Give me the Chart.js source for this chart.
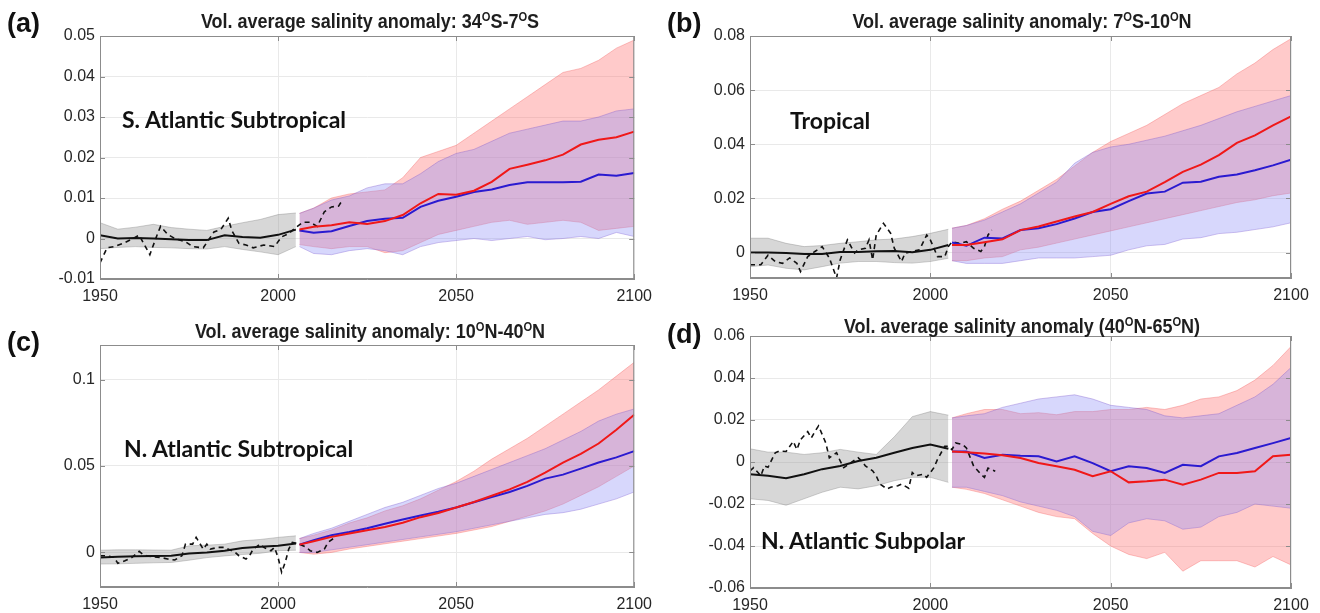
<!DOCTYPE html>
<html>
<head>
<meta charset="utf-8">
<script src="https://cdn.jsdelivr.net/npm/chart.js@4.4.1/dist/chart.umd.min.js"></script>
<style>
  body { margin: 0; background: #fff; }
  #wrap { position: relative; width: 1320px; height: 613px; overflow: hidden; background: #fff; }
  canvas { position: absolute; }
  .title { position: absolute; font: bold 20px "Liberation Sans", Arial, sans-serif; color: #1e1e1e;
           white-space: nowrap; transform: translate(-50%, -50%) scaleX(0.9); }
  .title sup { font-size: 0.62em; vertical-align: 0.55em; line-height: 0; }
  .plab { position: absolute; font: bold 27px "Liberation Sans", Arial, sans-serif; color: #111;
          transform: translateY(-50%); }
  .region { position: absolute; font: bold 23px Lato, "Open Sans", sans-serif; color: #111;
            white-space: nowrap; transform: translateY(-50%); }
</style>
</head>
<body>
<div id="wrap">
  <canvas id="ca" width="660" height="310" style="left:0;top:0"></canvas>
  <canvas id="cb" width="660" height="310" style="left:660px;top:0"></canvas>
  <canvas id="cc" width="660" height="303" style="left:0;top:310px"></canvas>
  <canvas id="cd" width="660" height="303" style="left:660px;top:310px"></canvas>

  <div class="plab" style="left:7px;top:23px">(a)</div>
  <div class="plab" style="left:667px;top:23px">(b)</div>
  <div class="plab" style="left:7px;top:342px">(c)</div>
  <div class="plab" style="left:667px;top:334px">(d)</div>

  <div class="title" style="left:370px;top:21px">Vol. average salinity anomaly: 34<sup>O</sup>S-7<sup>O</sup>S</div>
  <div class="title" style="left:1022px;top:21px">Vol. average salinity anomaly: 7<sup>O</sup>S-10<sup>O</sup>N</div>
  <div class="title" style="left:370px;top:331px">Vol. average salinity anomaly: 10<sup>O</sup>N-40<sup>O</sup>N</div>
  <div class="title" style="left:1022px;top:326px">Vol. average salinity anomaly (40<sup>O</sup>N-65<sup>O</sup>N)</div>

  <div class="region" style="left:122px;top:119px">S. Atlantic Subtropical</div>
  <div class="region" style="left:790px;top:120px">Tropical</div>
  <div class="region" style="left:124px;top:448px">N. Atlantic Subtropical</div>
  <div class="region" style="left:761px;top:540px">N. Atlantic Subpolar</div>
</div>

<script>
// years shared by all panels
const histYears = [1950, 1955, 1960, 1965, 1970, 1975, 1980, 1985, 1990, 1995, 2000, 2005];
const projYears = [2006, 2010, 2015, 2020, 2025, 2030, 2035, 2040, 2045, 2050,
                   2055, 2060, 2065, 2070, 2075, 2080, 2085, 2090, 2095, 2100];
const xTicks = [1950, 2000, 2050, 2100];

// (a) 34S-7S
const histMeanA = [0.0008, 0, 0.0001, 0, -0.0002, -0.0004, -0.0004, 0.0008, 0.0004, 0.0002, 0.0009, 0.0022];
const histHiA = [0.0039, 0.0023, 0.0028, 0.0035, 0.0027, 0.0023, 0.002, 0.003, 0.0039, 0.0047, 0.0059, 0.0063];
const histLoA = [-0.0025, -0.0022, -0.002, -0.0022, -0.0023, -0.0025, -0.0026, -0.002, -0.0027, -0.0033, -0.004, -0.002];
const obsYearsA = [1950, 1952, 1954, 1957, 1961, 1964, 1966, 1967, 1969, 1971, 1974, 1976, 1979, 1982, 1984, 1986,
                   1987, 1989, 1991, 1993, 1996, 1999, 2001, 2003, 2005, 2007, 2009, 2011, 2013, 2015, 2017, 2018];
const obsA = [-0.006, -0.0023, -0.002, -0.001, 0.0008, -0.004, 0.0008, 0.003, 0.001, 0, -0.0008, -0.002, -0.0023, 0.0016,
              0.0023, 0.005, 0.002, -0.0012, -0.0016, -0.0023, -0.0016, -0.002, 0.0004, 0.0012, 0.0027, 0.004, 0.004,
              0.003, 0.0066, 0.0078, 0.008, 0.0094];
const redMeanA = [0.0022, 0.0029, 0.0033, 0.004, 0.0036, 0.0043, 0.0058, 0.0087, 0.011, 0.0108,
                  0.0118, 0.014, 0.0172, 0.0182, 0.0193, 0.0207, 0.0232, 0.0244, 0.025, 0.0264];
const redHiA = [0.0062, 0.0075, 0.01, 0.011, 0.0115, 0.012, 0.015, 0.02, 0.0215, 0.023,
                0.026, 0.029, 0.032, 0.035, 0.038, 0.041, 0.042, 0.044, 0.047, 0.049];
const redLoA = [-0.0015, -0.002, -0.0025, -0.002, -0.002, -0.0035, -0.003, -0.001, 0.001, 0.002,
                0.003, 0.004, 0.0045, 0.0035, 0.004, 0.0045, 0.004, 0.002, 0.0025, 0.003];
const blueMeanA = [0.002, 0.0014, 0.0018, 0.0031, 0.0043, 0.0049, 0.0051, 0.0078, 0.0093, 0.0103,
                   0.0115, 0.0121, 0.0132, 0.0139, 0.0139, 0.0139, 0.014, 0.0158, 0.0155, 0.0162];
const blueHiA = [0.0062, 0.0075, 0.0095, 0.0105, 0.0125, 0.0135, 0.0135, 0.016, 0.019, 0.021,
                 0.022, 0.024, 0.026, 0.027, 0.028, 0.029, 0.029, 0.03, 0.0315, 0.032];
const blueLoA = [-0.002, -0.0037, -0.004, -0.003, -0.0025, -0.003, -0.004, -0.002, -0.001, -0.0005,
                 0, -0.0005, 0, 0.0005, -0.0003, 0, 0.0005, 0, 0.0015, 0.0005];

// (b) 7S-10N
const histMeanB = [0, 0, -0.0002, -0.0005, -0.0005, 0.0002, 0.0002, 0.0005, 0.0006, 0.0001, 0.001, 0.0028];
const histHiB = [0.0053, 0.0053, 0.0034, 0.0022, 0.0026, 0.0034, 0.004, 0.0047, 0.005, 0.0059, 0.0071, 0.0086];
const histLoB = [-0.0052, -0.0046, -0.0058, -0.0064, -0.0052, -0.0039, -0.0033, -0.0033, -0.0037, -0.0039, -0.0033, -0.0021];
const obsYearsB = [1950, 1953, 1955, 1957, 1959, 1961, 1963, 1964, 1966, 1968, 1970, 1972, 1974, 1975, 1977, 1979,
                   1980, 1982, 1983, 1984, 1985, 1987, 1989, 1990, 1992, 1993, 1995, 1997, 1999, 2000, 2002, 2004,
                   2005, 2006, 2008, 2010, 2012, 2014, 2015, 2016, 2017];
const obsB = [-0.0045, -0.0045, -0.001, -0.0033, -0.004, -0.002, -0.004, -0.007, -0.0015, 0.0004, 0.0022, -0.002,
              -0.0094, -0.0027, 0.0047, -0.0002, 0.001, 0.0016, 0.0047, -0.0027, 0.0065, 0.0108, 0.0071, 0.0016,
              -0.0033, -0.0002, 0.0004, 0.001, 0.0065, 0.0047, -0.0015, -0.0015, 0.0022, 0.004, 0.0034, 0.004,
              0.0016, 0.0004, 0.0022, 0.0065, 0.0083];
const redMeanB = [0.0028, 0.0028, 0.0038, 0.0049, 0.0083, 0.0096, 0.0115, 0.0133, 0.015, 0.018,
                  0.0208, 0.0225, 0.026, 0.0298, 0.0325, 0.036, 0.0405, 0.0433, 0.047, 0.0503];
const redHiB = [0.009, 0.01, 0.0125, 0.016, 0.019, 0.023, 0.027, 0.032, 0.037, 0.041,
                0.044, 0.047, 0.051, 0.055, 0.058, 0.061, 0.066, 0.07, 0.075, 0.079];
const redLoB = [-0.003, -0.003, -0.002, -0.0015, 0.001, 0.002, 0.0035, 0.005, 0.0065, 0.008,
                0.0095, 0.011, 0.0125, 0.014, 0.0155, 0.017, 0.0185, 0.0195, 0.021, 0.022];
const blueMeanB = [0.0037, 0.0025, 0.0055, 0.0052, 0.0083, 0.009, 0.0105, 0.0126, 0.015, 0.016,
                   0.019, 0.0218, 0.0225, 0.0258, 0.0262, 0.028, 0.0288, 0.0304, 0.0322, 0.0343];
const blueHiB = [0.009, 0.01, 0.012, 0.015, 0.018, 0.022, 0.026, 0.033, 0.037, 0.039,
                 0.04, 0.0415, 0.043, 0.045, 0.047, 0.0495, 0.052, 0.054, 0.056, 0.058];
const blueLoB = [-0.003, -0.004, -0.004, -0.004, -0.003, -0.002, -0.002, -0.002, -0.0015, -0.001,
                 0.001, 0.0025, 0.003, 0.005, 0.0055, 0.007, 0.0075, 0.0085, 0.0095, 0.011];

// (c) 10N-40N
const histMeanC = [-0.0029, -0.0025, -0.0022, -0.002, -0.0019, -0.0006, 0, 0.001, 0.0025, 0.0033, 0.0038, 0.0052];
const histHiC = [0.0013, 0.0015, 0.0015, 0.0014, 0.0013, 0.0038, 0.0042, 0.0048, 0.0067, 0.0075, 0.0087, 0.0096];
const histLoC = [-0.0067, -0.0066, -0.0063, -0.006, -0.0058, -0.0045, -0.003, -0.002, -0.0012, -0.0005, 0.001, 0.0013];
const obsYearsC = [1950, 1952, 1954, 1955, 1957, 1959, 1961, 1962, 1963, 1965, 1967, 1969, 1971, 1973, 1974, 1976,
                   1977, 1979, 1980, 1981, 1983, 1985, 1988, 1989, 1991, 1992, 1993, 1995, 1996, 1998, 1999, 2000,
                   2001, 2002, 2003, 2004, 2006, 2008, 2009, 2011, 2013, 2014, 2016];
const obsC = [-0.0019, -0.0019, -0.0029, -0.0063, -0.0048, -0.0029, 0.0006, -0.001, -0.0019, -0.0025, -0.0029,
              -0.0038, -0.0044, -0.0019, 0.0048, 0.0048, 0.0087, 0.0019, 0.0048, 0.0019, 0.0029, 0.0029, 0,
              -0.0019, -0.0038, -0.0019, 0.0019, 0.0048, 0.0029, 0.001, 0.0029, -0.0029, -0.0115, -0.0058,
              0.0019, 0.0058, 0.0048, 0.0029, 0.001, 0, 0.0019, 0.0058, 0.0087];
const redMeanC = [0.0045, 0.0065, 0.009, 0.011, 0.0128, 0.0147, 0.0172, 0.0204, 0.0228, 0.026,
                  0.0292, 0.0328, 0.0365, 0.0408, 0.0462, 0.052, 0.057, 0.063, 0.071, 0.0796];
const redHiC = [0.008, 0.01, 0.013, 0.017, 0.02, 0.024, 0.027, 0.031, 0.036, 0.041,
                0.047, 0.054, 0.06, 0.066, 0.073, 0.08, 0.087, 0.094, 0.102, 0.11];
const redLoC = [0, -0.001, 0, 0.002, 0.0035, 0.005, 0.0065, 0.008, 0.0095, 0.011,
                0.013, 0.015, 0.018, 0.021, 0.024, 0.028, 0.033, 0.038, 0.044, 0.05];
const blueMeanC = [0.0045, 0.007, 0.01, 0.0118, 0.014, 0.0166, 0.019, 0.0214, 0.0235, 0.026,
                   0.029, 0.032, 0.035, 0.0385, 0.0427, 0.045, 0.0485, 0.052, 0.055, 0.0586];
const blueHiC = [0.008, 0.011, 0.014, 0.018, 0.022, 0.026, 0.029, 0.033, 0.037, 0.04,
                 0.044, 0.048, 0.052, 0.056, 0.06, 0.065, 0.07, 0.076, 0.08, 0.083];
const blueLoC = [0, 0, 0.0015, 0.003, 0.0045, 0.006, 0.0075, 0.009, 0.0105, 0.012,
                 0.014, 0.016, 0.018, 0.02, 0.022, 0.023, 0.025, 0.028, 0.031, 0.035];

// (d) 40N-65N
const histMeanD = [-0.0058, -0.0066, -0.0077, -0.0058, -0.0034, -0.0019, 0.0005, 0.002, 0.0044, 0.0067, 0.0083, 0.0063];
const histHiD = [0.0063, 0.0047, 0.0047, 0.0036, 0.0044, 0.006, 0.0047, 0.0036, 0.012, 0.0216, 0.024, 0.0223];
const histLoD = [-0.0175, -0.0183, -0.0206, -0.0175, -0.0144, -0.012, -0.0128, -0.0113, -0.0089, -0.0073, -0.0073, -0.0097];
const obsYearsD = [1950, 1951, 1953, 1954, 1955, 1957, 1958, 1960, 1962, 1963, 1964, 1966, 1967, 1968, 1969, 1971,
                   1972, 1974, 1975, 1976, 1978, 1980, 1981, 1982, 1984, 1985, 1986, 1988, 1989, 1991, 1992, 1994,
                   1995, 1996, 1998, 1999, 2001, 2002, 2004, 2005, 2006, 2007, 2009, 2010, 2012, 2014, 2015, 2016, 2018];
const obsD = [-0.0042, -0.0027, -0.0066, -0.0019, -0.0025, 0.0044, 0.0052, 0.005, 0.0098, 0.0059, 0.0106, 0.0145,
              0.0114, 0.0145, 0.0172, 0.0091, 0.002, 0.0044, 0.0005, -0.0027, -0.0003, 0.002, 0.0005, -0.0019,
              -0.0042, -0.0066, -0.0105, -0.0128, -0.012, -0.0113, -0.0105, -0.0125, -0.005, -0.0066, -0.0058,
              -0.0073, -0.0027, 0.0013, 0.0075, 0.0075, 0.0059, 0.0091, 0.0083, 0.0067, -0.0019, -0.0058,
              -0.0073, -0.0029, -0.0044];
const redMeanD = [0.005, 0.0046, 0.004, 0.0032, 0.0019, -0.0005, -0.002, -0.0037, -0.0068, -0.0044,
                  -0.0097, -0.0092, -0.0084, -0.0108, -0.0084, -0.0052, -0.0052, -0.0044, 0.0027, 0.0035];
const redHiD = [0.021, 0.023, 0.025, 0.025, 0.023, 0.0235, 0.0225, 0.024, 0.024, 0.025,
                0.025, 0.026, 0.025, 0.027, 0.03, 0.031, 0.034, 0.039, 0.046, 0.055];
const redLoD = [-0.012, -0.013, -0.015, -0.018, -0.021, -0.024, -0.026, -0.027, -0.034, -0.04,
                -0.044, -0.046, -0.043, -0.052, -0.047, -0.047, -0.047, -0.05, -0.045, -0.049];
const blueMeanD = [0.005, 0.005, 0.0019, 0.0035, 0.003, 0.0027, 0.0003, 0.0027, -0.0005, -0.0044,
                   -0.002, -0.0029, -0.0052, -0.0013, -0.002, 0.0027, 0.0043, 0.0067, 0.009, 0.0114];
const blueHiD = [0.021, 0.022, 0.023, 0.026, 0.028, 0.03, 0.031, 0.032, 0.03, 0.027,
                 0.026, 0.025, 0.022, 0.021, 0.022, 0.023, 0.027, 0.031, 0.037, 0.045];
const blueLoD = [-0.012, -0.012, -0.014, -0.016, -0.019, -0.021, -0.023, -0.026, -0.033, -0.035,
                 -0.029, -0.027, -0.028, -0.032, -0.031, -0.026, -0.024, -0.02, -0.021, -0.022];

const AXIS_COL = '#8c8c8c';
const GRID_COL = '#e9e9e9';
const TICK_FONT = { family: '"Liberation Sans", Arial, sans-serif', size: 16 };

function pts(xs, ys) {
  return xs.map((x, i) => ({ x: x, y: ys[i] }));
}

// frame round the plot plus small inward ticks, like the matlab box
const boxPlugin = {
  id: 'box',
  afterDraw(chart) {
    const c = chart.ctx, a = chart.chartArea, sx = chart.scales.x, sy = chart.scales.y;
    c.save();
    c.strokeStyle = AXIS_COL;
    c.lineWidth = 1;
    c.strokeRect(a.left + 0.5, a.top + 0.5, a.right - a.left - 1, a.bottom - a.top - 1);
    c.beginPath();
    sy.ticks.forEach(t => {
      const y = Math.round(sy.getPixelForValue(t.value)) + 0.5;
      c.moveTo(a.left, y); c.lineTo(a.left + 5, y);
      c.moveTo(a.right - 5, y); c.lineTo(a.right, y);
    });
    sx.ticks.forEach(t => {
      const x = Math.round(sx.getPixelForValue(t.value)) + 0.5;
      c.moveTo(x, a.bottom); c.lineTo(x, a.bottom - 5);
      c.moveTo(x, a.top); c.lineTo(x, a.top + 5);
    });
    c.stroke();
    c.restore();
  }
};

function band(hi, lo, years, fillCol, edgeCol, order) {
  return [
    { data: pts(years, hi), fill: '+1', backgroundColor: fillCol, borderColor: edgeCol, borderWidth: 1, order: order },
    { data: pts(years, lo), fill: false, borderColor: edgeCol, borderWidth: 1, order: order }
  ];
}

function makePanel(id, p) {
  const datasets = [].concat(
    band(p.histHi, p.histLo, histYears, 'rgba(150,150,150,0.38)', 'rgba(120,120,120,0.35)', 10),
    band(p.redHi, p.redLo, projYears, 'rgba(255,110,110,0.37)', 'rgba(240,90,90,0.35)', 9),
    band(p.blueHi, p.blueLo, projYears, 'rgba(141,141,246,0.35)', 'rgba(120,80,200,0.35)', 8),
    [
      { data: pts(histYears, p.histMean), borderColor: '#111', borderWidth: 2, order: 3 },
      { data: pts(p.obsYears, p.obs), borderColor: '#111', borderWidth: 1.6, borderDash: [5, 4], order: 2 },
      { data: pts(projYears, p.blueMean), borderColor: '#2a1ad0', borderWidth: 2, order: 1 },
      { data: pts(projYears, p.redMean), borderColor: '#f01818', borderWidth: 2, order: 0 }
    ]
  );

  new Chart(document.getElementById(id), {
    type: 'line',
    data: { datasets: datasets },
    plugins: [boxPlugin],
    options: {
      responsive: false,
      animation: false,
      devicePixelRatio: 1,
      layout: { padding: { top: p.padTop, right: p.padRight, left: 0, bottom: 0 } },
      elements: { point: { radius: 0 }, line: { tension: 0 } },
      plugins: { legend: { display: false }, tooltip: { enabled: false }, title: { display: false } },
      scales: {
        x: {
          type: 'linear', min: 1950, max: 2100,
          afterBuildTicks: s => { s.ticks = xTicks.map(v => ({ value: v })); },
          afterFit: s => { s.height = p.xAxisH; },
          grid: { color: GRID_COL, drawTicks: false },
          border: { color: AXIS_COL },
          ticks: { font: TICK_FONT, color: '#262626', padding: 8, maxRotation: 0, callback: v => String(v) }
        },
        y: {
          type: 'linear', min: p.yMin, max: p.yMax,
          afterBuildTicks: s => { s.ticks = p.yTicks.map(v => ({ value: v })); },
          afterFit: s => { s.width = p.yAxisW; },
          grid: { color: GRID_COL, drawTicks: false },
          border: { color: AXIS_COL },
          ticks: { font: TICK_FONT, color: '#262626', padding: 5, callback: v => String(+v.toFixed(3)) }
        }
      }
    }
  });
}

makePanel('ca', {
  histMean: histMeanA, histHi: histHiA, histLo: histLoA, obsYears: obsYearsA, obs: obsA,
  redMean: redMeanA, redHi: redHiA, redLo: redLoA, blueMean: blueMeanA, blueHi: blueHiA, blueLo: blueLoA,
  yMin: -0.01, yMax: 0.05, yTicks: [-0.01, 0, 0.01, 0.02, 0.03, 0.04, 0.05],
  yAxisW: 100, padTop: 36, padRight: 19, xAxisH: 31
});
makePanel('cb', {
  histMean: histMeanB, histHi: histHiB, histLo: histLoB, obsYears: obsYearsB, obs: obsB,
  redMean: redMeanB, redHi: redHiB, redLo: redLoB, blueMean: blueMeanB, blueHi: blueHiB, blueLo: blueLoB,
  yMin: -0.0094, yMax: 0.08, yTicks: [0, 0.02, 0.04, 0.06, 0.08],
  yAxisW: 90, padTop: 36, padRight: 29, xAxisH: 32
});
makePanel('cc', {
  histMean: histMeanC, histHi: histHiC, histLo: histLoC, obsYears: obsYearsC, obs: obsC,
  redMean: redMeanC, redHi: redHiC, redLo: redLoC, blueMean: blueMeanC, blueHi: blueHiC, blueLo: blueLoC,
  yMin: -0.02, yMax: 0.12, yTicks: [0, 0.05, 0.1],
  yAxisW: 100, padTop: 35, padRight: 19, xAxisH: 26
});
makePanel('cd', {
  histMean: histMeanD, histHi: histHiD, histLo: histLoD, obsYears: obsYearsD, obs: obsD,
  redMean: redMeanD, redHi: redHiD, redLo: redLoD, blueMean: blueMeanD, blueHi: blueHiD, blueLo: blueLoD,
  yMin: -0.06, yMax: 0.06, yTicks: [-0.06, -0.04, -0.02, 0, 0.02, 0.04, 0.06],
  yAxisW: 90, padTop: 26, padRight: 29, xAxisH: 25
});
</script>
</body>
</html>
